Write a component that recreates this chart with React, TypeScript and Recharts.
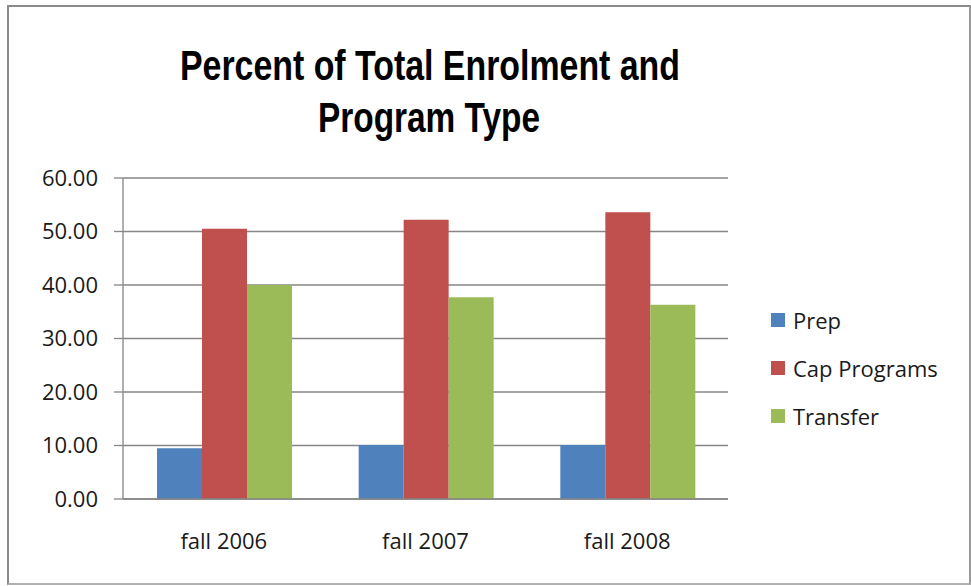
import React from 'react';
import { BarChart, Bar, XAxis, YAxis, CartesianGrid } from 'recharts';

const CATEGORIES = ['fall 2006', 'fall 2007', 'fall 2008'];
const PREP = [9.5, 10.1, 10.1];
const CAP_PROGRAMS = [50.5, 52.2, 53.6];
const TRANSFER = [40.0, 37.7, 36.3];
const SERIES_NAMES = ['Prep', 'Cap Programs', 'Transfer'];
const SERIES_COLORS = ['#4F81BD', '#C0504D', '#9BBB59'];
const Y_TICKS = [0, 10, 20, 30, 40, 50, 60];
const BOUNDARIES = [0, 1, 2, 3];
const TITLE_LINES = ['Percent of Total Enrolment and', 'Program Type'];

const data = CATEGORIES.map((c, i) => ({
  category: c,
  prep: PREP[i],
  cap: CAP_PROGRAMS[i],
  transfer: TRANSFER[i],
}));

const AXIS_GRAY = '#868686';
const TEXT = '#1a1a1a';
const FONT = "'Open Sans', 'Noto Sans', sans-serif";
const FS = 22;

export default function App() {
  return (
    <div style={{ position: 'absolute', left: 0, top: 0, width: 971, height: 586, background: '#fff' }}>
      <div
        style={{
          position: 'absolute',
          left: 7,
          top: 5,
          width: 960,
          height: 576,
          borderTop: '2px solid #8a8a8a',
          borderLeft: '2px solid #8a8a8a',
          borderRight: '2px solid #9a9a9a',
          borderBottom: '2px solid #b0b0b0',
        }}
      />
      <div style={{ position: 'absolute', left: 0, top: 0 }}>
        <BarChart
          width={971}
          height={586}
          data={data}
          margin={{ top: 178, right: 243, bottom: 47, left: 63 }}
          barCategoryGap={34}
          barGap={0}
        >
          <CartesianGrid vertical={false} stroke={AXIS_GRAY} strokeWidth={1.3} />
          <XAxis
            xAxisId="b"
            type="number"
            domain={[0, 3]}
            ticks={BOUNDARIES}
            allowDataOverflow
            height={0}
            axisLine={false}
            tick={false}
            tickSize={8}
            tickLine={{ stroke: AXIS_GRAY, strokeWidth: 1.3 }}
          />
          <XAxis
            xAxisId="cat"
            dataKey="category"
            height={40}
            axisLine={{ stroke: AXIS_GRAY, strokeWidth: 1.3 }}
            tickLine={false}
            tickSize={0}
            tickMargin={34}
            tick={{ fontFamily: FONT, fontSize: FS, fill: TEXT }}
          />
          <YAxis
            width={60}
            domain={[0, 60]}
            ticks={Y_TICKS}
            interval={0}
            tickFormatter={(v: number) => v.toFixed(2)}
            axisLine={{ stroke: AXIS_GRAY, strokeWidth: 1.3 }}
            tickLine={{ stroke: AXIS_GRAY, strokeWidth: 1.3 }}
            tickSize={9}
            tickMargin={16}
            tick={{ fontFamily: FONT, fontSize: FS, fill: TEXT }}
          />
          <Bar xAxisId="cat" dataKey="prep" name={SERIES_NAMES[0]} fill={SERIES_COLORS[0]} isAnimationActive={false} />
          <Bar xAxisId="cat" dataKey="cap" name={SERIES_NAMES[1]} fill={SERIES_COLORS[1]} isAnimationActive={false} />
          <Bar xAxisId="cat" dataKey="transfer" name={SERIES_NAMES[2]} fill={SERIES_COLORS[2]} isAnimationActive={false} />
        </BarChart>
      </div>
      <div style={{ position: 'absolute', left: 771, top: 296, display: 'flex', flexDirection: 'column' }}>
        {SERIES_NAMES.map((name, i) => (
          <div key={name} style={{ height: 48, display: 'flex', alignItems: 'center' }}>
            <span
              style={{ width: 14, height: 14, background: SERIES_COLORS[i], marginRight: 8, display: 'inline-block' }}
            />
            <span style={{ fontFamily: FONT, fontSize: FS, color: TEXT, whiteSpace: 'nowrap' }}>{name}</span>
          </div>
        ))}
      </div>
      <svg width={971} height={586} style={{ position: 'absolute', left: 0, top: 0, pointerEvents: 'none' }}>
        <text
          x={430}
          y={80}
          textAnchor="middle"
          fontFamily="'Liberation Sans Narrow', 'Liberation Sans', sans-serif"
          fontWeight="bold"
          fontSize={42}
          fill="#000"
          textLength={500}
          lengthAdjust="spacingAndGlyphs"
        >
          {TITLE_LINES[0]}
        </text>
        <text
          x={429}
          y={132}
          textAnchor="middle"
          fontFamily="'Liberation Sans Narrow', 'Liberation Sans', sans-serif"
          fontWeight="bold"
          fontSize={42}
          fill="#000"
          textLength={222}
          lengthAdjust="spacingAndGlyphs"
        >
          {TITLE_LINES[1]}
        </text>
      </svg>
    </div>
  );
}
